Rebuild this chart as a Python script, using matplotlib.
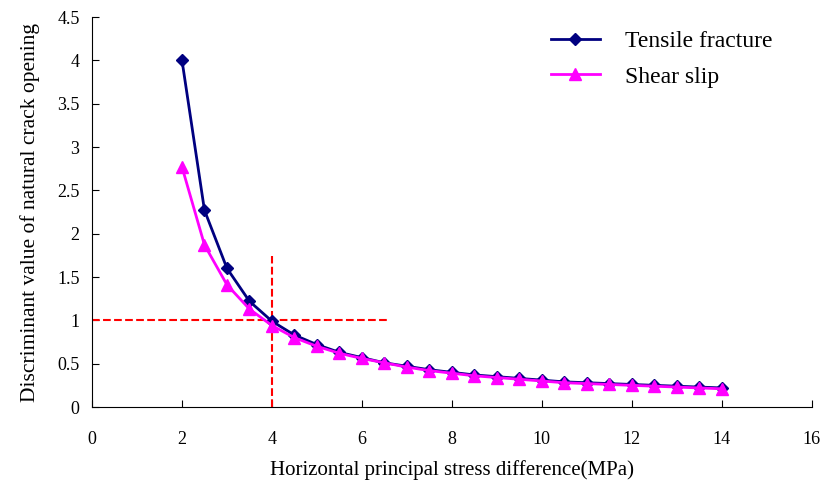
import matplotlib
matplotlib.use('Agg')
import matplotlib.pyplot as plt

plt.rcParams['font.family'] = ['Liberation Serif', 'DejaVu Serif']

# horizontal principal stress difference (MPa)
stress_diff = [2, 2.5, 3, 3.5, 4, 4.5, 5, 5.5, 6, 6.5, 7, 7.5, 8, 8.5, 9,
               9.5, 10, 10.5, 11, 11.5, 12, 12.5, 13, 13.5, 14]
tensile = [4.0, 2.27, 1.6, 1.22, 0.99, 0.83, 0.72, 0.63, 0.57, 0.51, 0.47,
           0.43, 0.40, 0.37, 0.35, 0.33, 0.31, 0.29, 0.28, 0.27, 0.26, 0.25,
           0.24, 0.23, 0.22]
shear = [2.77, 1.87, 1.41, 1.13, 0.94, 0.80, 0.70, 0.62, 0.56, 0.51, 0.46,
         0.42, 0.39, 0.36, 0.34, 0.32, 0.30, 0.28, 0.27, 0.26, 0.25, 0.24,
         0.23, 0.22, 0.21]

# critical value guide lines
crit_x = 4
crit_y = 1

fig = plt.figure(figsize=(8.24, 4.82), dpi=100)
ax = fig.add_axes([0.1117, 0.1556, 0.8733, 0.8091])

ax.plot(stress_diff, tensile, color='#000080', marker='D', markersize=6.5,
        linewidth=2, label='Tensile fracture', zorder=3)
ax.plot(stress_diff, shear, color='#FF00FF', marker='^', markersize=9,
        linewidth=2, label='Shear slip', zorder=4)

ax.plot([0, 6.6], [crit_y, crit_y], color='red', linestyle='--', linewidth=1.5, zorder=2)
ax.plot([crit_x, crit_x], [0, 1.74], color='red', linestyle='--', linewidth=1.5, zorder=2)

ax.set_xlim(0, 16)
ax.set_ylim(0, 4.5)
ax.set_xticks(range(0, 17, 2))
ax.set_yticks([0, 0.5, 1, 1.5, 2, 2.5, 3, 3.5, 4, 4.5])
ax.set_yticklabels(['0', '0.5', '1', '1.5', '2', '2.5', '3', '3.5', '4', '4.5'])
ax.spines['top'].set_visible(False)
ax.spines['right'].set_visible(False)
ax.tick_params(direction='in', length=5, labelsize=13)
ax.tick_params(axis='x', pad=17)
ax.tick_params(axis='y', pad=9)

ax.set_xlabel('Horizontal principal stress difference(MPa)', fontsize=15, labelpad=9)
ax.set_ylabel('Discriminant value of natural crack opening', fontsize=15.5, labelpad=12)

ax.legend(loc='upper right', bbox_to_anchor=(0.975, 1.02), frameon=False,
          fontsize=17, labelspacing=0.6, handlelength=2.1, handletextpad=1.05)

fig.savefig('out.png')
